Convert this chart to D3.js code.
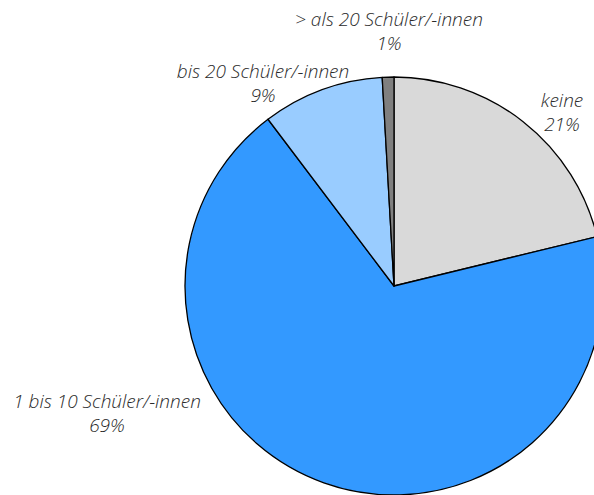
<!DOCTYPE html>
<html>
<head>
<meta charset="utf-8">
<script src="https://cdn.jsdelivr.net/npm/d3@7"></script>
<style>
  body { margin: 0; background: #fff; }
  svg text { font-family: "Open Sans", "Lato", sans-serif; font-style: italic; font-weight: 300; fill: #2b2b2b; font-size: 19px; }
</style>
</head>
<body>
<svg width="594" height="495"></svg>
<script>
// data
var categories = ["keine", "1 bis 10 Schüler/-innen", "bis 20 Schüler/-innen", "> als 20 Schüler/-innen"];
var values = [21.2, 68.5, 9.4, 0.9];
var labels = ["21%", "69%", "9%", "1%"];
var colors = ["#d9d9d9", "#3399ff", "#99ccff", "#808080"];

// where excel put the labels (centre x, baseline of first line)
var labelAt = [[562, 107], [107, 408], [263, 78], [389, 26]];

var svg = d3.select("svg");
var cx = 394, cy = 286, r = 209;

var pie = d3.pie().sort(null).value(function (d) { return d; });
var arc = d3.arc().innerRadius(0).outerRadius(r);

var g = svg.append("g").attr("transform", "translate(" + cx + "," + cy + ")");

g.selectAll("path")
  .data(pie(values))
  .enter().append("path")
  .attr("d", arc)
  .attr("fill", function (d, i) { return colors[i]; })
  .attr("stroke", "#000")
  .attr("stroke-width", 1.3)
  .attr("stroke-linejoin", "round");

// two-line labels as separate texts so they don't share a box
var lab = svg.append("g").selectAll("g")
  .data(categories)
  .enter().append("g");

lab.append("text")
  .attr("text-anchor", "middle")
  .attr("x", function (d, i) { return labelAt[i][0]; })
  .attr("y", function (d, i) { return labelAt[i][1]; })
  .text(function (d) { return d; });

lab.append("text")
  .attr("text-anchor", "middle")
  .attr("x", function (d, i) { return labelAt[i][0]; })
  .attr("y", function (d, i) { return labelAt[i][1] + 24; })
  .text(function (d, i) { return labels[i]; });
</script>
</body>
</html>
